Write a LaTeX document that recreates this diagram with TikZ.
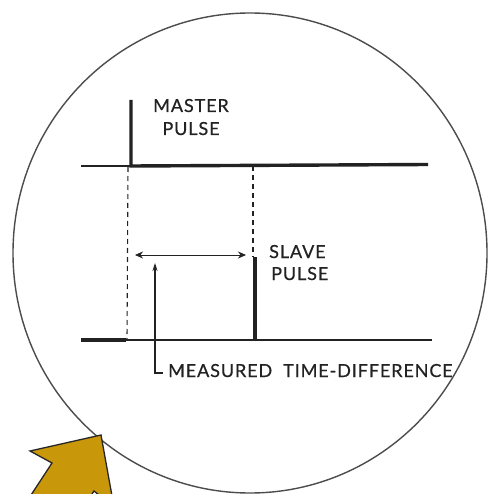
\documentclass[tikz,border=0pt]{standalone}
\usepackage{fontspec}
\setmainfont{Lato}[LetterSpace=5,FakeBold=0.6]
\usetikzlibrary{arrows.meta}
\definecolor{gold}{HTML}{C8970A}
\definecolor{ink}{HTML}{222222}
\tikzset{
  thinline/.style={draw=ink, line width=1.2pt},
  thickline/.style={draw=ink, line width=3.4pt},
  dashline/.style={draw=ink, line width=1.1pt, dash pattern=on 5pt off 4pt},
  lbl/.style={text=ink, font=\fontsize{18}{21}\selectfont, inner sep=0pt},
}
\begin{document}
\begin{tikzpicture}[x=1pt,y=-1pt]
\useasboundingbox (0,0) rectangle (488,494);
\fill[white] (0,0) rectangle (488,494);
% circle
\draw[draw=black!70, line width=1.4pt] (250,253) ellipse [x radius=237, y radius=240];
% coordinates
\coordinate (tl) at (81,166);
\coordinate (mb) at (131,166);
\coordinate (mt) at (131,100);
\coordinate (tr) at (428,164.5);
\coordinate (bl) at (81,340);
\coordinate (bk) at (126,340);
\coordinate (br) at (432,340);
\coordinate (sb) at (255,340);
\coordinate (st) at (255,257);
\coordinate (d1t) at (128,167);
\coordinate (d1b) at (127,340);
\coordinate (d2t) at (253,166);
\coordinate (d2b) at (253,257);
\coordinate (al) at (135,255);
\coordinate (ar) at (246,255);
\coordinate (vt) at (155,263);
\coordinate (vb) at (155,373);
\coordinate (vc) at (163,373);
% top trace
\draw[thinline] (tl) -- (mb);
\draw[thickline] (mt) -- (mb) -- (tr);
% bottom trace
\draw[thickline] (bl) -- (bk);
\draw[thinline] (bk) -- (br);
\draw[thickline] (sb) -- (st);
% dashed
\draw[dashline] (d1t) -- (d1b);
\draw[dashline] (d2t) -- (d2b);
% arrows
\draw[thinline, line width=0.8pt, {Stealth[length=8pt,width=7pt]}-{Stealth[length=8pt,width=7pt]}] (al) -- (ar);
\draw[thinline, -{Stealth[length=8pt,width=5pt]}] (vc) -- (vb) -- (vt);
% labels
\node[lbl, anchor=base] (master) at (191,112) {MASTER};
\node[lbl, anchor=base] (mpulse) at (191,135) {PULSE};
\node[lbl, anchor=base west] (slave) at (269,258) {SLAVE};
\node[lbl, anchor=base west] (spulse) at (271,280) {PULSE};
\node[lbl, anchor=base west] (meas) at (168,377) {MEASURED\ \ TIME-DIFFERENCE};
% gold arrow
\begin{scope}
\clip (0,0) rectangle (488,494);
\filldraw[fill=gold, draw=black!85, line width=1.3pt, line join=miter]
  (101,435) -- (114,507) -- (94,491) -- (39,575) -- (-3,547) -- (52,463) -- (30,451) -- cycle;
\end{scope}
\end{tikzpicture}
\end{document}
